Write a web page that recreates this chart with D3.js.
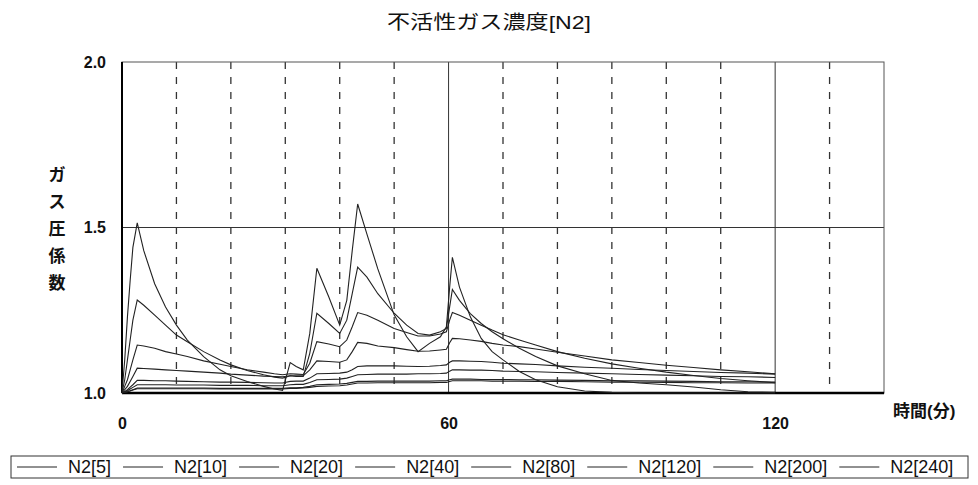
<!DOCTYPE html>
<html>
<head>
<meta charset="utf-8">
<script src="https://cdn.jsdelivr.net/npm/d3@7"></script>
<style>
body { margin: 0; background: #fff; }
svg text { font-family: "Liberation Sans", "Noto Sans CJK JP", sans-serif; fill: #111; }
</style>
</head>
<body>
<svg width="978" height="485"></svg>
<script>
// time axis (minutes) shared by every series
var times = [0, 0.5, 1, 1.5, 2, 2.8, 4, 6, 8, 10, 12, 15, 18, 20, 23, 26, 28, 29.5,
    30.9, 32, 33.3, 34.5, 35.8, 38, 40, 41.3, 42.3, 43.3, 45, 47, 50, 52.3, 54.4, 56.5,
    58.5, 59.6, 60.2, 60.7, 62, 64, 66, 68, 70, 73, 76, 80, 85, 90, 95, 100, 105, 110, 115, 120];

var n2_5 = [1.00, 1.10, 1.23, 1.34, 1.44, 1.514, 1.43, 1.33, 1.26, 1.205, 1.16, 1.11, 1.07, 1.052, 1.035, 1.02, 1.012, 1.008,
    1.092, 1.08, 1.07, 1.18, 1.377, 1.29, 1.205, 1.28, 1.43, 1.571, 1.48, 1.375, 1.236, 1.17, 1.125, 1.15,
    1.17, 1.20, 1.32, 1.41, 1.32, 1.23, 1.165, 1.125, 1.10, 1.065, 1.04, 1.019, 1.006, 1.002, 1.0, 1.0, 1.0, 1.0, 1.0, 1.0];

var n2_10 = [1.00, 1.04, 1.10, 1.16, 1.22, 1.281, 1.265, 1.235, 1.205, 1.175, 1.155, 1.125, 1.10, 1.085, 1.068, 1.055, 1.048, 1.045,
    1.052, 1.05, 1.05, 1.12, 1.241, 1.21, 1.18, 1.22, 1.30, 1.38, 1.35, 1.30, 1.241, 1.205, 1.18, 1.175,
    1.185, 1.195, 1.26, 1.313, 1.28, 1.24, 1.21, 1.185, 1.164, 1.135, 1.11, 1.082, 1.058, 1.038, 1.03, 1.025, 1.018, 1.01, 1.004, 1.002];

var n2_20 = [1.00, 1.02, 1.04, 1.07, 1.10, 1.145, 1.142, 1.135, 1.125, 1.118, 1.11, 1.097, 1.087, 1.08, 1.07, 1.063, 1.058, 1.055,
    1.058, 1.057, 1.056, 1.09, 1.155, 1.148, 1.14, 1.16, 1.20, 1.243, 1.235, 1.22, 1.195, 1.183, 1.172, 1.172,
    1.178, 1.185, 1.22, 1.243, 1.235, 1.22, 1.205, 1.19, 1.176, 1.16, 1.145, 1.125, 1.105, 1.088, 1.075, 1.063, 1.053, 1.044, 1.037, 1.031];

var n2_40 = [1.00, 1.01, 1.02, 1.035, 1.05, 1.075, 1.074, 1.072, 1.07, 1.068, 1.066, 1.063, 1.06, 1.057, 1.054, 1.051, 1.05, 1.049,
    1.052, 1.052, 1.052, 1.07, 1.097, 1.095, 1.093, 1.10, 1.125, 1.153, 1.15, 1.142, 1.137, 1.131, 1.126, 1.127,
    1.13, 1.132, 1.152, 1.165, 1.164, 1.16, 1.156, 1.15, 1.145, 1.14, 1.133, 1.123, 1.112, 1.10, 1.092, 1.084, 1.077, 1.07, 1.064, 1.058];

var n2_80 = [1.00, 1.005, 1.01, 1.018, 1.025, 1.038, 1.038, 1.037, 1.037, 1.036, 1.035, 1.034, 1.033, 1.033, 1.032, 1.031, 1.03, 1.03,
    1.035, 1.036, 1.036, 1.045, 1.058, 1.059, 1.06, 1.063, 1.07, 1.08, 1.082, 1.082, 1.082, 1.081, 1.08, 1.081,
    1.083, 1.085, 1.093, 1.097, 1.097, 1.096, 1.095, 1.093, 1.09, 1.088, 1.086, 1.082, 1.078, 1.075, 1.071, 1.068, 1.065, 1.062, 1.06, 1.057];

var n2_120 = [1.00, 1.003, 1.007, 1.012, 1.017, 1.025, 1.025, 1.025, 1.025, 1.024, 1.024, 1.024, 1.023, 1.023, 1.023, 1.022, 1.022, 1.022,
    1.025, 1.026, 1.026, 1.032, 1.04, 1.041, 1.042, 1.045, 1.05, 1.055, 1.056, 1.057, 1.057, 1.057, 1.058, 1.058,
    1.059, 1.06, 1.066, 1.07, 1.07, 1.069, 1.069, 1.068, 1.066, 1.065, 1.064, 1.062, 1.06, 1.058, 1.056, 1.054, 1.052, 1.05, 1.049, 1.047];

var n2_200 = [1.00, 1.002, 1.004, 1.007, 1.01, 1.015, 1.015, 1.015, 1.015, 1.015, 1.015, 1.015, 1.014, 1.014, 1.014, 1.014, 1.014, 1.014,
    1.016, 1.016, 1.017, 1.02, 1.025, 1.026, 1.027, 1.029, 1.032, 1.035, 1.035, 1.036, 1.036, 1.036, 1.036, 1.036,
    1.037, 1.037, 1.04, 1.042, 1.042, 1.042, 1.041, 1.041, 1.041, 1.04, 1.04, 1.039, 1.038, 1.037, 1.037, 1.036, 1.035, 1.034, 1.034, 1.033];

var n2_240 = [1.00, 1.002, 1.004, 1.006, 1.009, 1.013, 1.013, 1.013, 1.013, 1.013, 1.013, 1.013, 1.012, 1.012, 1.012, 1.012, 1.012, 1.012,
    1.014, 1.014, 1.015, 1.017, 1.02, 1.021, 1.022, 1.024, 1.027, 1.03, 1.03, 1.031, 1.031, 1.031, 1.031, 1.031,
    1.032, 1.032, 1.035, 1.037, 1.037, 1.037, 1.037, 1.036, 1.036, 1.036, 1.035, 1.035, 1.034, 1.033, 1.033, 1.032, 1.031, 1.031, 1.03, 1.03];

var seriesNames = ["N2[5]", "N2[10]", "N2[20]", "N2[40]", "N2[80]", "N2[120]", "N2[200]", "N2[240]"];
var seriesValues = [n2_5, n2_10, n2_20, n2_40, n2_80, n2_120, n2_200, n2_240];

var xTicks = [0, 60, 120];
var yTicks = [1.0, 1.5, 2.0];
var title = "不活性ガス濃度[N2]";
var yLabel = "ガス圧係数";
var xLabel = "時間(分)";

var svg = d3.select("svg"),
    margin = {left: 122, top: 62, right: 94, bottom: 92},
    width = +svg.attr("width") - margin.left - margin.right,
    height = +svg.attr("height") - margin.top - margin.bottom;

var x = d3.scaleLinear().domain([0, 140]).range([0, width]);
var y = d3.scaleLinear().domain([1, 2]).range([height, 0]);

var g = svg.append("g").attr("transform", "translate(" + margin.left + "," + margin.top + ")");

// title
svg.append("text")
    .attr("x", 489).attr("y", 29)
    .attr("text-anchor", "middle")
    .attr("textLength", 204)
    .attr("lengthAdjust", "spacingAndGlyphs")
    .style("font-size", "19px")
    .text(title);

// vertical grid, every 10 min; solid at 60 and 120
g.selectAll(".vgrid")
    .data(d3.range(10, 140, 10))
    .enter().append("line")
    .attr("class", "vgrid")
    .attr("x1", function (d) {return x(d);})
    .attr("x2", function (d) {return x(d);})
    .attr("y1", 0).attr("y2", height)
    .attr("stroke", "#333")
    .attr("stroke-width", function (d) {return d % 60 === 0 ? 1 : 1.3;})
    .attr("stroke-dasharray", function (d) {return d % 60 === 0 ? null : "7,8";});

g.append("line")
    .attr("x1", 0).attr("x2", width)
    .attr("y1", y(1.5)).attr("y2", y(1.5))
    .attr("stroke", "#333");

// frame
g.append("rect")
    .attr("width", width).attr("height", height)
    .attr("fill", "none")
    .attr("stroke", "#555");
g.append("line").attr("x1", 0).attr("x2", 0).attr("y1", 0).attr("y2", height)
    .attr("stroke", "#000").attr("stroke-width", 2);
g.append("line").attr("x1", 0).attr("x2", width).attr("y1", height).attr("y2", height)
    .attr("stroke", "#000").attr("stroke-width", 2.5);

// series
var line = d3.line()
    .x(function (d, i) {return x(times[i]);})
    .y(function (d) {return y(d);});

g.selectAll(".series")
    .data(seriesValues)
    .enter().append("path")
    .attr("class", "series")
    .attr("d", line)
    .attr("fill", "none")
    .attr("stroke", "#222")
    .attr("stroke-width", 1.1);

// axes
var yAxis = g.append("g")
    .call(d3.axisLeft(y).tickValues(yTicks).tickFormat(d3.format(".1f")).tickSize(0).tickPadding(16));
yAxis.select(".domain").remove();
yAxis.selectAll("text").style("font-size", "16px").style("font-weight", "bold");

var xAxis = g.append("g")
    .attr("transform", "translate(0," + height + ")")
    .call(d3.axisBottom(x).tickValues(xTicks).tickSize(0).tickPadding(25));
xAxis.select(".domain").remove();
xAxis.selectAll("text").style("font-size", "16px").style("font-weight", "bold");

// axis titles
svg.append("text")
    .attr("x", 893).attr("y", 417)
    .style("font-size", "17px").style("font-weight", "bold")
    .text(xLabel);

svg.selectAll(".ylab")
    .data(yLabel.split(""))
    .enter().append("text")
    .attr("class", "ylab")
    .attr("x", 57)
    .attr("y", function (d, i) {return 181 + i * 27;})
    .attr("text-anchor", "middle")
    .style("font-size", "17px").style("font-weight", "bold")
    .text(function (d) {return d;});

// legend
var legend = svg.append("g");
var lx = 17, ly = 467;
seriesNames.forEach(function (name) {
    legend.append("line")
        .attr("x1", lx).attr("x2", lx + 40)
        .attr("y1", ly).attr("y2", ly)
        .attr("stroke", "#222");
    var t = legend.append("text")
        .attr("x", lx + 51).attr("y", ly + 6)
        .style("font-size", "18px")
        .text(name);
    lx = lx + 51 + t.node().getComputedTextLength() + 12;
});
legend.insert("rect", ":first-child")
    .attr("x", 11).attr("y", 456)
    .attr("width", 957).attr("height", 22)
    .attr("fill", "none")
    .attr("stroke", "#333");
</script>
</body>
</html>
